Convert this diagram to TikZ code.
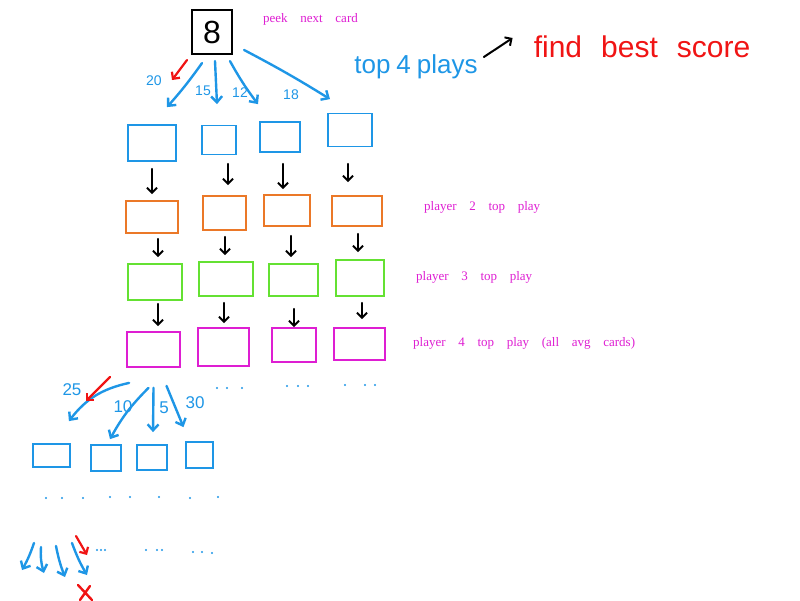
\documentclass[tikz,border=0pt]{standalone}
\usepackage{fontspec}
\setmainfont{Liberation Serif}
\newfontfamily\lblfont[WordSpace=3.9]{Liberation Serif}
\newfontfamily\handfont{Liberation Sans}
\usetikzlibrary{arrows.meta,calc}
\definecolor{inkblue}{RGB}{30,150,230}
\definecolor{inkorange}{RGB}{235,120,40}
\definecolor{inkgreen}{RGB}{100,225,50}
\definecolor{inkmag}{RGB}{222,30,210}
\definecolor{inkred}{RGB}{240,20,20}
\tikzset{
  card box/.style={draw=black, line width=2.2pt, minimum width=40pt, minimum height=44pt, inner sep=0pt},
  rowbox/.style={line width=1.8pt, inner sep=0pt},
  bbox/.style={rowbox, draw=inkblue},
  obox/.style={rowbox, draw=inkorange},
  gbox/.style={rowbox, draw=inkgreen},
  mbox/.style={rowbox, draw=inkmag},
  bluearrow/.style={draw=inkblue, line width=2.4pt, line cap=round, -{Straight Barb[length=6pt,width=11pt]}},
  blackarrow/.style={draw=black, line width=2pt, line cap=round, -{Straight Barb[length=5pt,width=10pt]}},
  redarrow/.style={draw=inkred, line width=2.2pt, line cap=round, -{Straight Barb[length=5pt,width=10pt]}},
  magtext/.style={text=inkmag, font=\lblfont\fontsize{13}{15}\selectfont, inner sep=0pt, anchor=west},
  numlbl/.style={text=inkblue, font=\handfont\fontsize{14}{14}\selectfont, inner sep=0pt},
  numlblb/.style={text=inkblue, font=\handfont\fontsize{17}{17}\selectfont, inner sep=0pt},
  dotmark/.style={fill=inkblue},
}
\begin{document}
\begin{tikzpicture}[x=1pt,y=-1pt]
\useasboundingbox (0,0) rectangle (800,600);
% top card
\node[card box] (card) at (212,32) {\handfont\fontsize{32}{32}\selectfont 8};
\node[magtext] (peek) at (263,19) {peek next card};
\node[text=inkblue, font=\handfont\fontsize{26}{26}\selectfont, inner sep=0pt] (tp) at (416,67) {\spaceskip=6pt\relax top 4 plays};
\node[text=inkred, font=\handfont\fontsize{30}{30}\selectfont, inner sep=0pt] (fb) at (642,47) {\spaceskip=19pt\relax find best score};
\draw[blackarrow] ([shift={(6,-10)}]tp.east) -- ([shift={(-21,-9)}]fb.west);

% row 1 (blue)
\node[bbox, minimum width=48pt, minimum height=36pt] (b1) at (152,143) {};
\node[bbox, minimum width=34pt, minimum height=29pt] (b2) at (219,140) {};
\node[bbox, minimum width=40pt, minimum height=30pt] (b3) at (280,137) {};
\node[bbox, minimum width=44pt, minimum height=33pt] (b4) at (350,130) {};
% row 2 (orange)
\node[obox, minimum width=52pt, minimum height=32pt] (o1) at (152,217) {};
\node[obox, minimum width=43pt, minimum height=34pt] (o2) at (224.5,213) {};
\node[obox, minimum width=46pt, minimum height=31pt] (o3) at (287,210.5) {};
\node[obox, minimum width=50pt, minimum height=30pt] (o4) at (357,211) {};
% row 3 (green)
\node[gbox, minimum width=54pt, minimum height=36pt] (g1) at (155,282) {};
\node[gbox, minimum width=54pt, minimum height=34pt] (g2) at (226,279) {};
\node[gbox, minimum width=49pt, minimum height=32pt] (g3) at (293.5,280) {};
\node[gbox, minimum width=48pt, minimum height=36pt] (g4) at (360,278) {};
% row 4 (magenta)
\node[mbox, minimum width=53pt, minimum height=35pt] (m1) at (153.5,349.5) {};
\node[mbox, minimum width=51pt, minimum height=38pt] (m2) at (223.5,347) {};
\node[mbox, minimum width=44pt, minimum height=34pt] (m3) at (294,345) {};
\node[mbox, minimum width=51pt, minimum height=32pt] (m4) at (359.5,344) {};
% row 5 (blue)
\node[bbox, minimum width=37pt, minimum height=23pt] (n1) at (51.5,455.5) {};
\node[bbox, minimum width=30pt, minimum height=26pt] (n2) at (106,458) {};
\node[bbox, minimum width=30pt, minimum height=25pt] (n3) at (152,457.5) {};
\node[bbox, minimum width=27pt, minimum height=26pt] (n4) at (199.5,455) {};

% row labels
\node[magtext] (p2) at (424,207) {player 2 top play};
\node[magtext] (p3) at (416,277) {player 3 top play};
\node[magtext] (p4) at (413,343) {player 4 top play (all avg cards)};

% top arrows
\draw[bluearrow] ([shift={(-10,8)}]card.south) to[bend left=3] ([shift={(15,-17)}]b1.north);
\draw[bluearrow] ([shift={(3,6)}]card.south) -- ([shift={(-2,-20.5)}]b2.north);
\draw[bluearrow] ([shift={(18,6)}]card.south) to[bend right=4] ([shift={(-22,-17)}]b3.north);
\draw[bluearrow] ([shift={(11,18)}]card.east) to[bend left=2] ([shift={(-20,-13.5)}]b4.north);
\node[numlbl] (l20) at (154,81) {20};
\node[numlbl] (l15) at (203,91) {15};
\node[numlbl] (l12) at (240,93) {12};
\node[numlbl] (l18) at (291,95) {18};
\coordinate (r1s) at (187,60);
\coordinate (r1e) at (172,80);
\draw[redarrow] (r1s) -- (r1e);

% vertical arrows row1->row2
\draw[blackarrow] ([shift={(0,7)}]b1.south) -- ([shift={(0,-6)}]b1.south |- o1.north);
\draw[blackarrow] ([shift={(9,8.5)}]b2.south) -- ([shift={(9,-10)}]b2.south |- o2.north);
\draw[blackarrow] ([shift={(3,11)}]b3.south) -- ([shift={(3,-5)}]b3.south |- o3.north);
\draw[blackarrow] ([shift={(-2,16.5)}]b4.south) -- ([shift={(-2,-13)}]b4.south |- o4.north);
% row2->row3
\draw[blackarrow] ([shift={(6,5)}]o1.south) -- ([shift={(6,-6)}]o1.south |- g1.north);
\draw[blackarrow] ([shift={(0.5,6)}]o2.south) -- ([shift={(0.5,-6)}]o2.south |- g2.north);
\draw[blackarrow] ([shift={(4,9)}]o3.south) -- ([shift={(4,-6)}]o3.south |- g3.north);
\draw[blackarrow] ([shift={(1,7)}]o4.south) -- ([shift={(1,-7)}]o4.south |- g4.north);
% row3->row4
\draw[blackarrow] ([shift={(3,3)}]g1.south) -- ([shift={(3,-5)}]g1.south |- m1.north);
\draw[blackarrow] ([shift={(-2,6)}]g2.south) -- ([shift={(-2,-4)}]g2.south |- m2.north);
\draw[blackarrow] ([shift={(0.5,12)}]g3.south) -- ([shift={(0.5,0)}]g3.south |- m3.north);
\draw[blackarrow] ([shift={(2,6)}]g4.south) -- ([shift={(2,-8)}]g4.south |- m4.north);

% dots after row 4
\foreach \x/\y in {217/388,227/388,242/388,287/386,298/386,308/386,345/385,365/385,375/385}
  \fill[dotmark] (\x,\y) circle (1.1pt);

% second level arrows
\draw[bluearrow] ([shift={(3,15)}]m1.south west) to[bend right=20] ([shift={(-2,-22)}]n1.north east);
\draw[bluearrow] ([shift={(-5,20)}]m1.south) to[bend right=8] ([shift={(4,-5)}]n2.north);
\draw[bluearrow] ([shift={(0,20)}]m1.south) -- ([shift={(1,-12)}]n3.north);
\draw[bluearrow] ([shift={(13,18)}]m1.south) -- ([shift={(-16,-14)}]n4.north);
\node[numlblb] (l25) at (72,390) {25};
\node[numlblb] (l10) at (123,407) {10};
\node[numlblb] (l5) at (164,408) {5};
\node[numlblb] (l30) at (195,403) {30};
\coordinate (r2s) at (110,377);
\coordinate (r2e) at (86,401);
\draw[redarrow] (r2s) -- (r2e);

% dots after row 5
\foreach \x/\y in {46/498,62/498,83/498,110/497,130/497,159/497,190/498,218/497}
  \fill[dotmark] (\x,\y) circle (1.1pt);

% bottom arrows
\coordinate (q1s) at (34,543); \coordinate (q1e) at (22,570);
\coordinate (q2s) at (41,547); \coordinate (q2e) at (44,573);
\coordinate (q3s) at (56,546); \coordinate (q3e) at (65,577);
\coordinate (q4s) at (72,543); \coordinate (q4e) at (87,575);
\draw[bluearrow] (q1s) to[bend left=5] (q1e);
\draw[bluearrow] (q2s) to[bend right=10] (q2e);
\draw[bluearrow] (q3s) to[bend right=5] (q3e);
\draw[bluearrow] (q4s) to[bend right=5] (q4e);
\coordinate (r3s) at (76,536);
\coordinate (r3e) at (87,555);
\draw[redarrow] (r3s) -- (r3e);
\draw[inkred, line width=2.4pt, line cap=round] (78,585) -- (92,600) (90,586) -- (80,600);

% dots bottom
\foreach \x/\y in {97/550,101/550,105/550,146/550,157/550,162/550,193/552,202/552,212/553}
  \fill[dotmark] (\x,\y) circle (1.1pt);
\end{tikzpicture}
\end{document}
